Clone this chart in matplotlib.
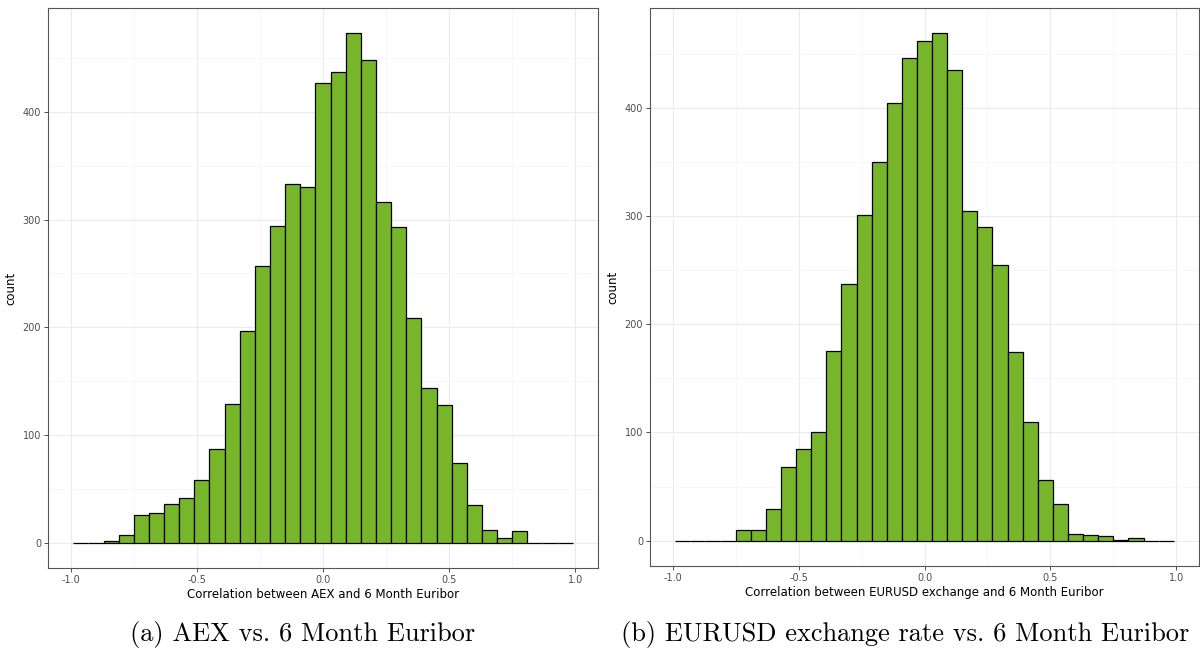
import numpy as np
import matplotlib.pyplot as plt
from matplotlib.ticker import MultipleLocator

# bins of width 0.06 centred on multiples of 0.06, from -0.96 to 0.96
bin_centers = [round(k * 0.06, 2) for k in range(-16, 17)]
bin_width = 0.06

# counts
aex_counts = [0, 0, 1, 7, 26, 27, 36, 41, 58, 87, 129, 197, 257, 294, 333, 330,
              427, 437, 473, 448, 316, 293, 209, 144, 128, 74, 35, 12, 4, 11, 0, 0, 0]
eurusd_counts = [0, 0, 0, 0, 10, 10, 29, 68, 85, 100, 175, 237, 301, 350, 405, 446,
                 462, 469, 435, 305, 290, 255, 174, 110, 56, 34, 6, 5, 4, 1, 2, 0, 0]

x_labels = ["Correlation between AEX and 6 Month Euribor",
            "Correlation between EURUSD exchange and 6 Month Euribor"]
captions = ["(a) AEX vs. 6 Month Euribor",
            "(b) EURUSD exchange rate vs. 6 Month Euribor"]

W, H = 1200, 653
fig = plt.figure(figsize=(W / 100, H / 100), dpi=100)

# panel boxes in pixels: left, top, right, bottom
boxes = [(48, 8, 598, 568), (650, 8, 1199, 566)]
series = [aex_counts, eurusd_counts]
caption_x = [303, 905]

for box, counts, xl, cap, cx in zip(boxes, series, x_labels, captions, caption_x):
    l, t, r, b = box
    ax = fig.add_axes([l / W, 1 - b / H, (r - l) / W, (b - t) / H])
    ax.bar(bin_centers, counts, width=bin_width, color='#77b62a',
           edgecolor='black', linewidth=0.9, zorder=3)
    top = max(counts)
    ax.set_ylim(-0.05 * top, top * 1.05)
    ax.set_xlim(-1.09, 1.09)
    ax.xaxis.set_major_locator(MultipleLocator(0.5))
    ax.xaxis.set_minor_locator(MultipleLocator(0.25))
    ax.yaxis.set_major_locator(MultipleLocator(100))
    ax.yaxis.set_minor_locator(MultipleLocator(50))
    ax.grid(which='major', color='#ebebeb', linewidth=0.8, zorder=0)
    ax.grid(which='minor', color='#f6f6f6', linewidth=0.6, zorder=0)
    ax.set_xticks([-1.0, -0.5, 0.0, 0.5, 1.0])
    ax.set_xticklabels(['-1.0', '-0.5', '0.0', '0.5', '1.0'])
    ax.tick_params(which='major', length=3, width=0.6, color='#333333',
                   labelsize=7, labelcolor='#4d4d4d', pad=2)
    ax.tick_params(which='minor', length=0)
    for s in ax.spines.values():
        s.set_color('#555555')
        s.set_linewidth(0.8)
    ax.set_xlabel(xl, fontsize=8.5, labelpad=2)
    ax.set_ylabel('count', fontsize=8.5, labelpad=4)
    fig.text(cx / W, 1 - 634 / H, cap, family='cmr10', fontsize=19,
             ha='center', va='center')

fig.savefig('out.png', dpi=100)
